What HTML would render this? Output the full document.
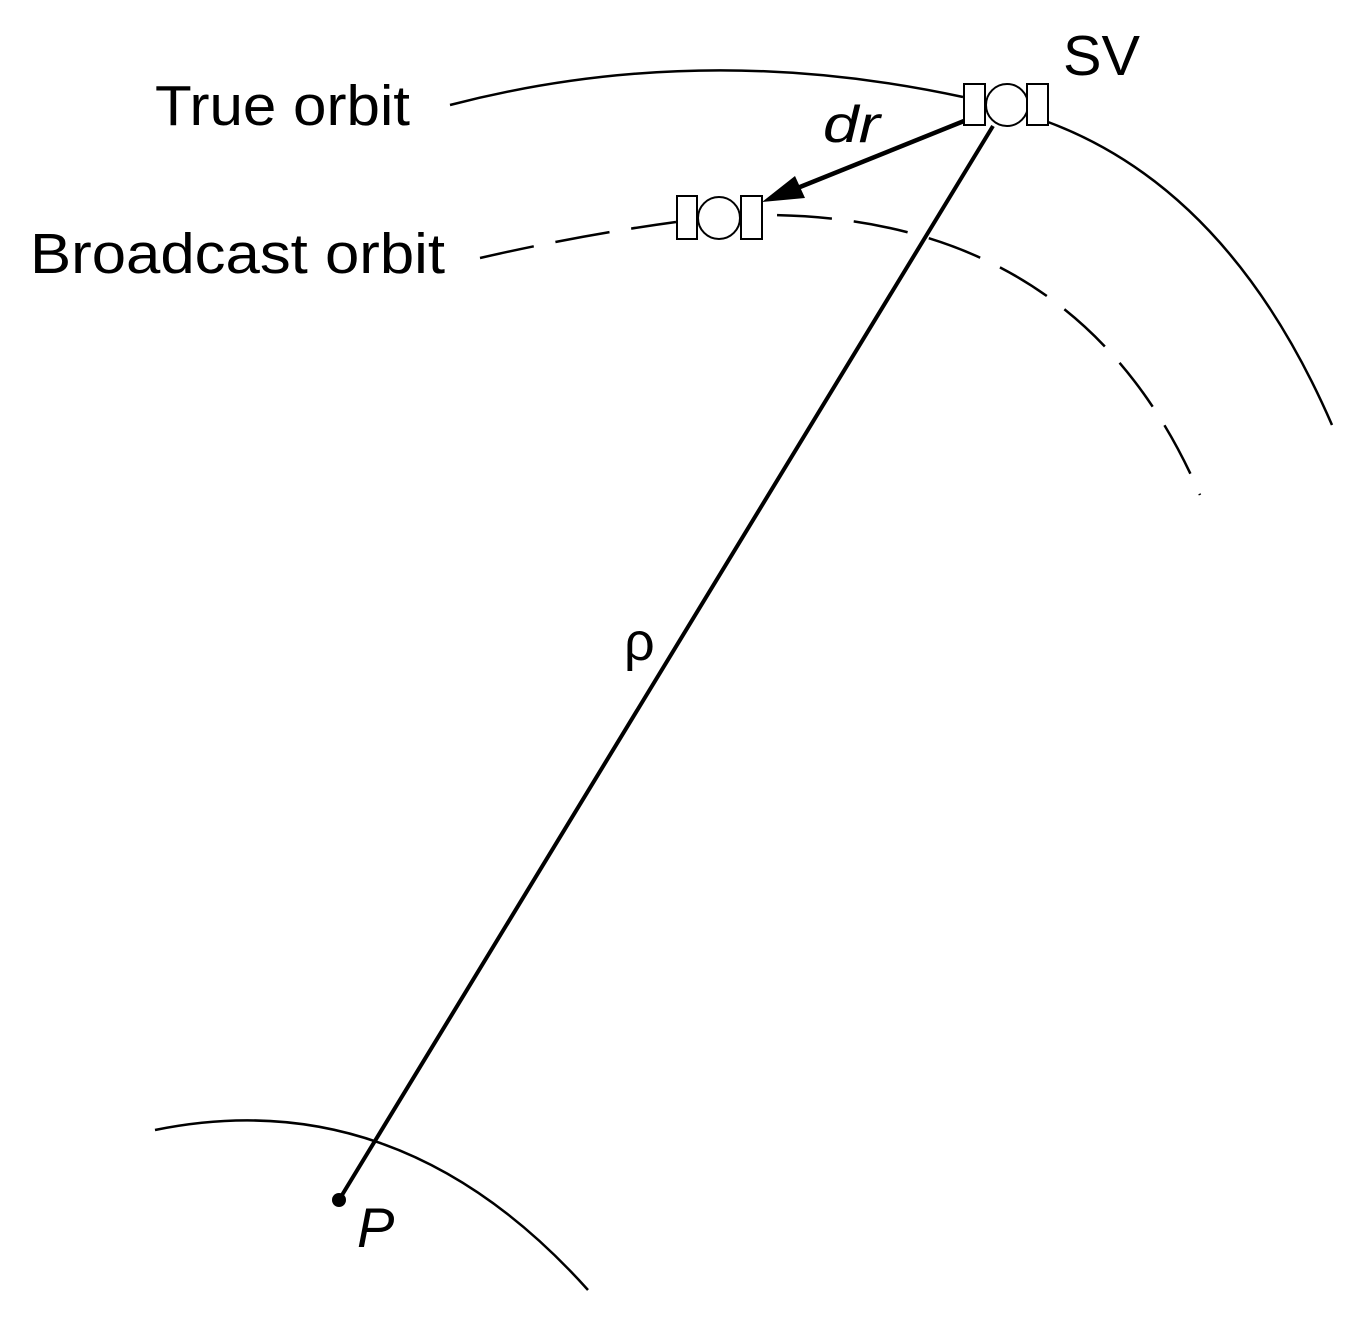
<!DOCTYPE html>
<html><head><style>
html,body{margin:0;padding:0;background:#fff;}
svg text{font-family:"Liberation Sans",sans-serif;fill:#000;}
</style></head><body>
<svg width="1358" height="1312" viewBox="0 0 1358 1312" xmlns="http://www.w3.org/2000/svg">
<g fill="none" stroke="#000">
<path d="M450 105 Q700 40 963 97" stroke-width="2.5"/>
<path d="M1048 122 Q1230 190 1332 425" stroke-width="2.5"/>
<path d="M480 258 Q580 235 676 222" stroke-width="2.5" stroke-dasharray="55,22"/>
<path d="M762 215 Q1080 215 1200 495" stroke-width="2.5" stroke-dasharray="55,22" stroke-dashoffset="-15"/>
<path d="M155 1130 Q400 1080 588 1290" stroke-width="2.5"/>
<line x1="993" y1="126" x2="339" y2="1200" stroke-width="4"/>
<line x1="964" y1="121" x2="790" y2="191" stroke-width="4.5"/>
</g>
<polygon points="762,202 795,176 805,198" fill="#000"/>
<g fill="#fff" stroke="#000" stroke-width="2">
<rect x="964" y="84" width="21" height="41"/>
<circle cx="1007" cy="105" r="21"/>
<rect x="1027" y="84" width="21" height="41"/>
<rect x="677" y="196" width="20" height="43"/>
<circle cx="719" cy="218" r="21"/>
<rect x="741" y="196" width="21" height="43"/>
</g>
<circle cx="339" cy="1200" r="7" fill="#000"/>
<text x="155" y="125" font-size="57" textLength="255" lengthAdjust="spacingAndGlyphs">True orbit</text>
<text x="30" y="273" font-size="57" textLength="415" lengthAdjust="spacingAndGlyphs">Broadcast orbit</text>
<text x="1063" y="75" font-size="57" textLength="77" lengthAdjust="spacingAndGlyphs">SV</text>
<text x="823" y="142" font-size="52" font-style="italic" textLength="57" lengthAdjust="spacingAndGlyphs">dr</text>
<text x="624" y="660" font-size="54">ρ</text>
<text x="357" y="1247" font-size="56" font-style="italic">P</text>
</svg>
</body></html>
